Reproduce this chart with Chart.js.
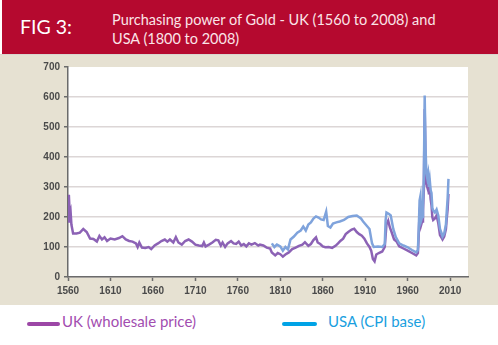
<!DOCTYPE html>
<html>
<head>
<meta charset="utf-8">
<script src="https://cdn.jsdelivr.net/npm/chart.js@4/dist/chart.umd.min.js"></script>
<style>
  html, body { margin: 0; padding: 0; background: #fff; }
  #page { position: relative; width: 498px; height: 345px; overflow: hidden; font-family: "Open Sans", "Noto Sans", sans-serif; }
  #header { position: absolute; left: 2px; top: 0; width: 496px; height: 54px; background: #b5092f; }
  #fig { position: absolute; left: 18px; top: 15px; font-size: 19.5px; color: #fff; font-family: Lato, "Open Sans", sans-serif; }
  #title { position: absolute; left: 110px; top: 10px; font-size: 14.5px; line-height: 19px; color: #fbe4e8; font-family: Lato, "Open Sans", sans-serif; }
  #chartBox { position: absolute; left: 0; top: 54px; width: 498px; height: 251px; background: #e6e1d2; border-top: 1px solid #d9d6d0; box-sizing: border-box; }
  .leg { position: absolute; top: 312px; font-size: 15px; font-family: Lato, "Open Sans", sans-serif; }
  .leg .bar { position: absolute; top: 10px; height: 4px; border-radius: 2px; }
</style>
</head>
<body>
<div id="page">
  <div id="header">
    <div id="fig">FIG 3:</div>
    <div id="title">Purchasing power of Gold - UK (1560 to 2008) and<br>USA (1800 to 2008)</div>
  </div>
  <div id="chartBox"><canvas id="goldChart" width="498" height="250"></canvas></div>
  <div class="leg" style="left:27px; color:#a24db0;"><span class="bar" style="left:0; width:33px; background:#9c47a6;"></span><span style="margin-left:35px;">UK (wholesale price)</span></div>
  <div class="leg" style="left:282px; color:#1a9fe0;"><span class="bar" style="left:0; width:35px; background:#00a3e6;"></span><span style="margin-left:46px;">USA (CPI base)</span></div>
</div>
<script>
// UK purchasing power of gold (wholesale price base)
const ukYears = [1560, 1561, 1562, 1563, 1564, 1566, 1570, 1574, 1578, 1582, 1586, 1590, 1594, 1597, 1600, 1603, 1606, 1610, 1615, 1620,
  1624, 1628, 1632, 1636, 1640, 1642, 1644, 1647, 1651, 1655, 1658, 1662, 1666, 1670, 1674, 1677, 1680, 1684, 1687, 1690,
  1694, 1698, 1702, 1706, 1710, 1714, 1718, 1720, 1722, 1726, 1730, 1734, 1737, 1740, 1742, 1745, 1748, 1752, 1755, 1758,
  1761, 1764, 1767, 1770, 1773, 1776, 1780, 1784, 1786, 1790, 1794, 1798, 1800, 1804, 1807, 1810, 1813, 1816, 1820, 1824,
  1828, 1832, 1836, 1839, 1843, 1846, 1849, 1852, 1854, 1857, 1860, 1863, 1867, 1871, 1875, 1878, 1881, 1884, 1887, 1890,
  1894, 1897, 1900, 1903, 1906, 1909, 1912, 1915, 1917, 1919, 1921, 1923, 1926, 1930, 1933, 1935, 1937, 1939, 1941, 1944,
  1947, 1950, 1955, 1960, 1965, 1970, 1972, 1973, 1974, 1975, 1976, 1977, 1978, 1979, 1980, 1981, 1982, 1983, 1984, 1985,
  1986, 1987, 1988, 1989, 1990, 1992, 1994, 1996, 1998, 2000, 2001, 2003, 2005, 2006, 2007, 2008];
const ukValues = [185, 274, 210, 220, 175, 145, 145, 148, 160, 150, 128, 127, 118, 137, 125, 132, 120, 128, 125, 130,
  136, 125, 120, 118, 112, 100, 115, 98, 97, 100, 93, 105, 112, 120, 125, 118, 125, 115, 133, 115,
  108, 120, 125, 118, 108, 105, 103, 115, 102, 108, 115, 124, 122, 105, 115, 100, 112, 120, 112, 110,
  118, 105, 110, 102, 112, 108, 113, 105, 108, 105, 98, 95, 82, 72, 80, 76, 68, 75, 82, 93,
  98, 104, 108, 116, 104, 110, 123, 132, 115, 110, 102, 99, 100, 97, 104, 112, 121, 128, 143, 150,
  158, 161, 150, 143, 138, 128, 112, 100, 88, 60, 52, 75, 80, 85, 100, 176, 188, 165, 150, 125,
  118, 102, 95, 88, 80, 72, 80, 140, 220, 240, 175, 185, 220, 290, 560, 390, 310, 300, 330, 275,
  300, 260, 240, 200, 190, 195, 205, 180, 140, 130, 125, 135, 160, 195, 225, 277];

// USA purchasing power of gold (CPI base)
const usYears = [1800, 1803, 1806, 1810, 1813, 1816, 1819, 1822, 1826, 1830, 1834, 1837, 1840, 1843, 1846, 1849, 1852, 1855, 1858, 1861,
  1864, 1866, 1869, 1872, 1876, 1880, 1885, 1890, 1895, 1900, 1905, 1908, 1912, 1915, 1918, 1920, 1925, 1930, 1933, 1934,
  1935, 1938, 1940, 1943, 1946, 1950, 1955, 1960, 1965, 1970, 1972, 1973, 1974, 1975, 1976, 1977, 1978, 1979, 1980, 1981,
  1982, 1983, 1984, 1985, 1986, 1987, 1988, 1989, 1990, 1992, 1994, 1996, 1998, 2000, 2001, 2003, 2005, 2006, 2007, 2008];
const usValues = [112, 100, 108, 102, 88, 100, 92, 125, 135, 148, 155, 168, 155, 175, 182, 195, 202, 198, 192, 190,
  218, 170, 165, 178, 182, 185, 190, 200, 203, 205, 195, 183, 170, 160, 112, 100, 102, 100, 110, 190,
  215, 210, 205, 160, 133, 112, 105, 99, 90, 82, 90, 160, 255, 270, 190, 200, 235, 330, 605, 430,
  345, 330, 345, 300, 322, 290, 280, 230, 222, 215, 225, 205, 160, 145, 135, 145, 175, 220, 260, 327];

const xTickYears = [1560, 1610, 1660, 1710, 1760, 1810, 1860, 1910, 1960, 2010];

const toPoints = (xs, ys) => xs.map((x, i) => ({ x: x, y: ys[i] }));

// white plot area on the beige panel
const plotBg = {
  id: "plotBg",
  beforeDraw(chart) {
    const a = chart.chartArea;
    chart.ctx.save();
    chart.ctx.fillStyle = "#ffffff";
    chart.ctx.fillRect(a.left, a.top, a.right - a.left, a.bottom - a.top);
    chart.ctx.restore();
  },
};

const tickFont = { family: "'Liberation Sans', Arial, sans-serif", size: 10, weight: "bold" };

new Chart(document.getElementById("goldChart"), {
  type: "line",
  data: {
    datasets: [
      {
        label: "UK (wholesale price)",
        data: toPoints(ukYears, ukValues),
        borderColor: "#8c62b5",
        borderWidth: 2.5,
        pointRadius: 0,
        tension: 0,
        order: 1,
      },
      {
        label: "USA (CPI base)",
        data: toPoints(usYears, usValues),
        borderColor: "#7fa3dc",
        borderWidth: 2.5,
        pointRadius: 0,
        tension: 0,
        order: 0,
      },
    ],
  },
  options: {
    responsive: false,
    animation: false,
    layout: { padding: { top: 12, right: 30, left: 0, bottom: 0 } },
    plugins: { legend: { display: false }, tooltip: { enabled: false } },
    scales: {
      x: {
        type: "linear",
        min: 1560,
        max: 2031,
        afterBuildTicks: (axis) => { axis.ticks = xTickYears.map((v) => ({ value: v })); },
        afterFit: (axis) => { axis.height = 28; },
        border: { display: true, color: "#6b6b6b", width: 1.5 },
        grid: { drawOnChartArea: false, drawTicks: true, tickLength: 4, tickColor: "#6b6b6b", tickWidth: 1.5 },
        ticks: { color: "#4a4a4a", font: tickFont, padding: 4, maxRotation: 0, autoSkip: false, callback: (v) => String(v) },
      },
      y: {
        min: 0,
        max: 700,
        afterFit: (axis) => { axis.width = 68; },
        border: { display: true, color: "#6b6b6b", width: 1.5 },
        grid: {
          color: (c) => (c.tick && c.tick.value === 700 ? "rgba(0,0,0,0)" : "#dcd6d6"),
          lineWidth: 1.5,
          drawTicks: true,
          tickLength: 4,
          tickColor: "#6b6b6b",
        },
        ticks: { stepSize: 100, color: "#4a4a4a", font: tickFont, padding: 4 },
      },
    },
  },
  plugins: [plotBg],
});
</script>
</body>
</html>
